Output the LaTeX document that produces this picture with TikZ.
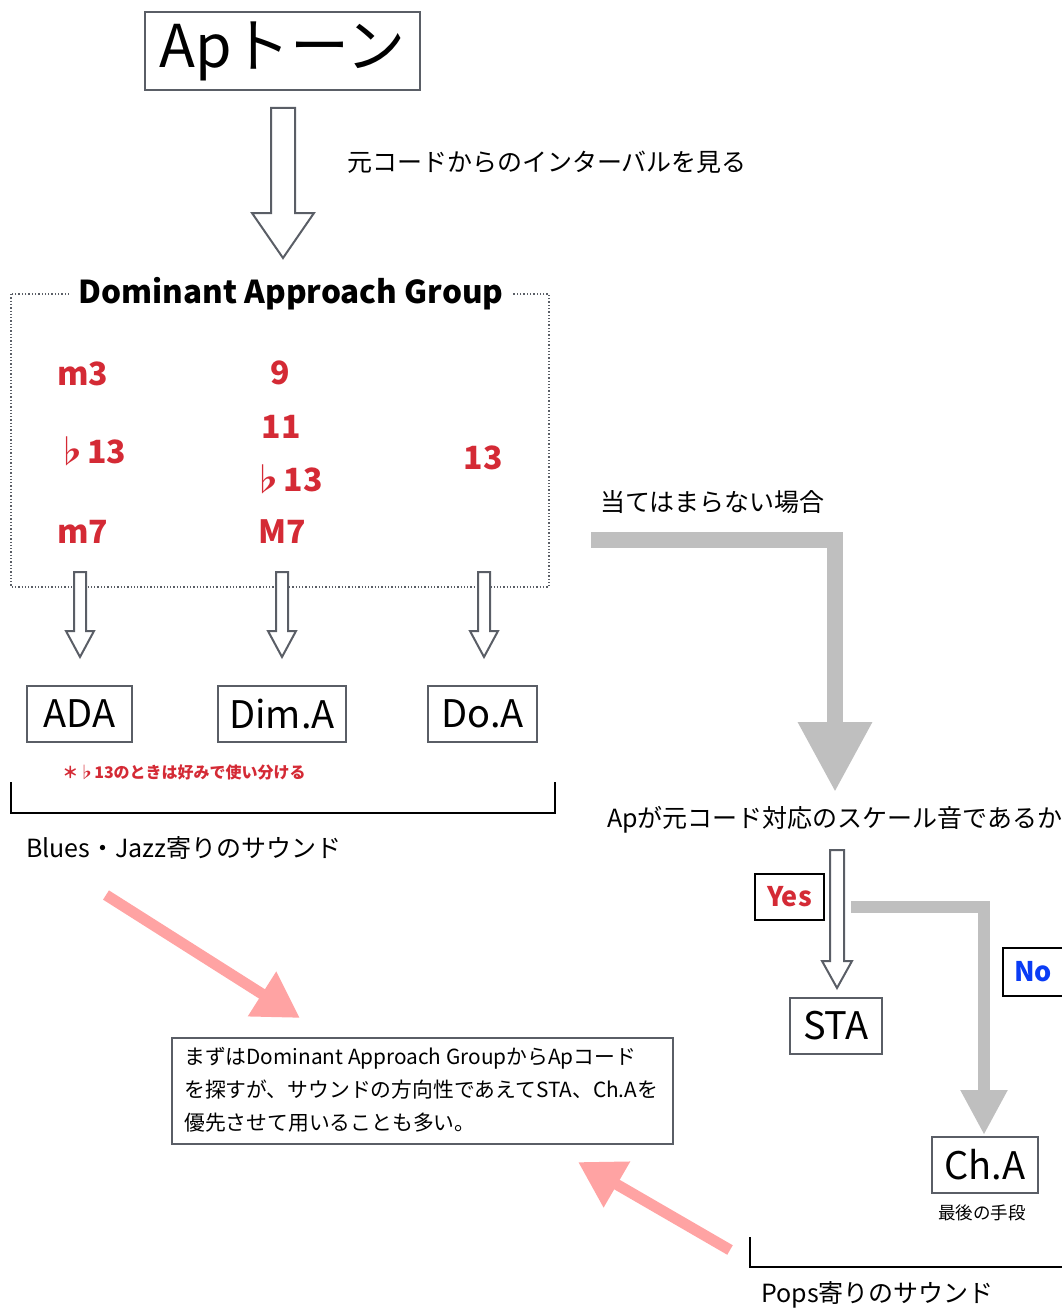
\documentclass[tikz,border=0pt]{standalone}
\usepackage{fontspec}
\setmainfont{Noto Sans CJK JP}
\usetikzlibrary{arrows.meta,calc}
\definecolor{boxgray}{HTML}{5A5E66}
\definecolor{notered}{HTML}{D42A35}
\definecolor{noblue}{HTML}{0A3CF5}
\definecolor{pinkc}{HTML}{FFA3A3}
\definecolor{flowgray}{HTML}{BFBFBF}
\newcommand{\hollowarrow}[5]{\draw[hollow] let \p1=(#1), \p2=(#2) in
  (\x1-#3,\y1) -- (\x1+#3,\y1) -- (\x1+#3,\y2+#5) -- (\x1+#4,\y2+#5) -- (\x1,\y2)
  -- (\x1-#4,\y2+#5) -- (\x1-#3,\y2+#5) -- cycle;}
\tikzset{
 labelbox/.style={draw=boxgray, line width=2pt, inner sep=0pt, font=\fontsize{38}{40}\selectfont},
 hollow/.style={draw=boxgray, line width=2pt, fill=white, line join=miter},
 redlab/.style={text=notered, font=\bfseries\fontsize{32}{34}\selectfont, inner sep=0pt},
 plain/.style={inner sep=0pt, font=\fontsize{25}{27}\selectfont},
 pinkarrow/.style={draw=pinkc, line width=11pt, -{Triangle[length=45pt,width=50pt]}},
 grayflow/.style={draw=flowgray, line join=miter},
 bracket/.style={draw=black, line width=1.2pt},
}
\begin{document}
\begin{tikzpicture}[x=1pt,y=-1pt]
\useasboundingbox (0,0) rectangle (1061,1308);
% top
\node[labelbox, minimum width=275pt, minimum height=78pt, font=\fontsize{59}{62}\selectfont] (top) at (282.5,51) {Apトーン};
\coordinate (a1s) at (283,108);
\coordinate (a1e) at (283,258);
\hollowarrow{a1s}{a1e}{12pt}{31pt}{45pt}
\node[plain, anchor=west] (interval) at (347,162) {元コードからのインターバルを見る};
% group
\draw[draw=boxgray, line width=1.3pt, dotted] (11,294) rectangle (549,587);
\node[fill=white, inner xsep=10pt, inner ysep=0pt, font=\bfseries\fontsize{31.5}{33}\selectfont] (dag) at (291,294) {Dominant Approach Group};
\node[redlab, anchor=west] (m3) at (57,374) {m3};
\node[redlab, anchor=west] (b13a) at (55,451) {♭13};
\node[redlab, anchor=west] (m7) at (57,532) {m7};
\node[redlab] (n9) at (280,373) {9};
\node[redlab] (n11) at (281,427) {11};
\node[redlab] (b13b) at (287,479) {♭13};
\node[redlab] (M7) at (282,532) {M7};
\node[redlab] (n13) at (483,458) {13};
% arrows to boxes
\node[labelbox, minimum width=105pt, minimum height=56pt] (ada) at (79.5,714) {ADA};
\node[labelbox, minimum width=128pt, minimum height=56pt] (dima) at (282,714) {Dim.A};
\node[labelbox, minimum width=109pt, minimum height=56pt] (doa) at (482.5,714) {Do.A};
\coordinate (s1) at (80,572); \coordinate (e1) at (80,657);
\coordinate (s2) at (282,572); \coordinate (e2) at (282,657);
\coordinate (s3) at (484,572); \coordinate (e3) at (484,657);
\hollowarrow{s1}{e1}{6pt}{14pt}{26pt}
\hollowarrow{s2}{e2}{6pt}{14pt}{26pt}
\hollowarrow{s3}{e3}{6pt}{14pt}{26pt}
\node[text=notered, inner sep=0pt, font=\bfseries\fontsize{16}{18}\selectfont] (rnote) at (184,772) {＊♭13のときは好みで使い分ける};
\draw[bracket] (11,782) -- (11,813) -- (555,813) -- (555,782);
\node[plain, anchor=west] (blues) at (26,848) {Blues・Jazz寄りのサウンド};
% note box
\node[draw=boxgray, line width=2pt, minimum width=501pt, minimum height=106pt, inner sep=0pt] (note) at (422.5,1091) {};
\node[anchor=west, align=left, inner sep=0pt, font=\fontsize{20.8}{33}\selectfont] (notetext) at (184,1090) {まずはDominant Approach GroupからApコード\\を探すが、サウンドの方向性であえてSTA、Ch.Aを\\優先させて用いることも多い。};
\coordinate (p1s) at (106,895);
\coordinate (p1e) at (300,1018);
\draw[pinkarrow] (p1s) -- (p1e);
\coordinate (p2s) at (730,1250);
\coordinate (p2e) at (578,1162);
\draw[pinkarrow] (p2s) -- (p2e);
% right side
\node[plain, anchor=west] (notapply) at (600,502) {当てはまらない場合};
\coordinate (g1s) at (591,540);
\node[plain, anchor=west] (scale) at (607,820) {Apが元コード対応のスケール音であるか};
\coordinate (g1e) at (835,792);
\draw[grayflow, line width=16pt, -{Triangle[length=70pt,width=70pt]}] (g1s) -| (g1e);
\coordinate (ys) at (837,850);
\coordinate (ye) at (837,988);
\hollowarrow{ys}{ye}{7pt}{15pt}{27pt}
\node[draw=black, line width=1.5pt, minimum width=69pt, minimum height=46pt, inner sep=0pt, text=notered, font=\bfseries\fontsize{27}{29}\selectfont] (yes) at (789.5,897) {Yes};
\node[labelbox, minimum width=92pt, minimum height=56pt] (sta) at (836,1026) {STA};
\coordinate (g2s) at (851,907);
\coordinate (g2e) at (984,1135);
\draw[grayflow, line width=12pt, -{Triangle[length=45pt,width=44pt]}] (g2s) -| (g2e);
\node[draw=black, line width=1.5pt, minimum width=67pt, minimum height=48pt, inner sep=0pt] (nobox) at (1036.5,972) {};
\node[inner sep=0pt, text=noblue, font=\bfseries\fontsize{27}{29}\selectfont] (no) at (1033,972) {No};
\node[labelbox, minimum width=106pt, minimum height=56pt] (cha) at (985,1165) {Ch.A};
\node[inner sep=0pt, font=\fontsize{17.5}{19}\selectfont] (last) at (982,1213) {最後の手段};
\draw[bracket] (750,1237) -- (750,1267) -- (1065,1267);
\node[plain, anchor=west] (pops) at (761,1295) {Pops寄りのサウンド};
\end{tikzpicture}
\end{document}
